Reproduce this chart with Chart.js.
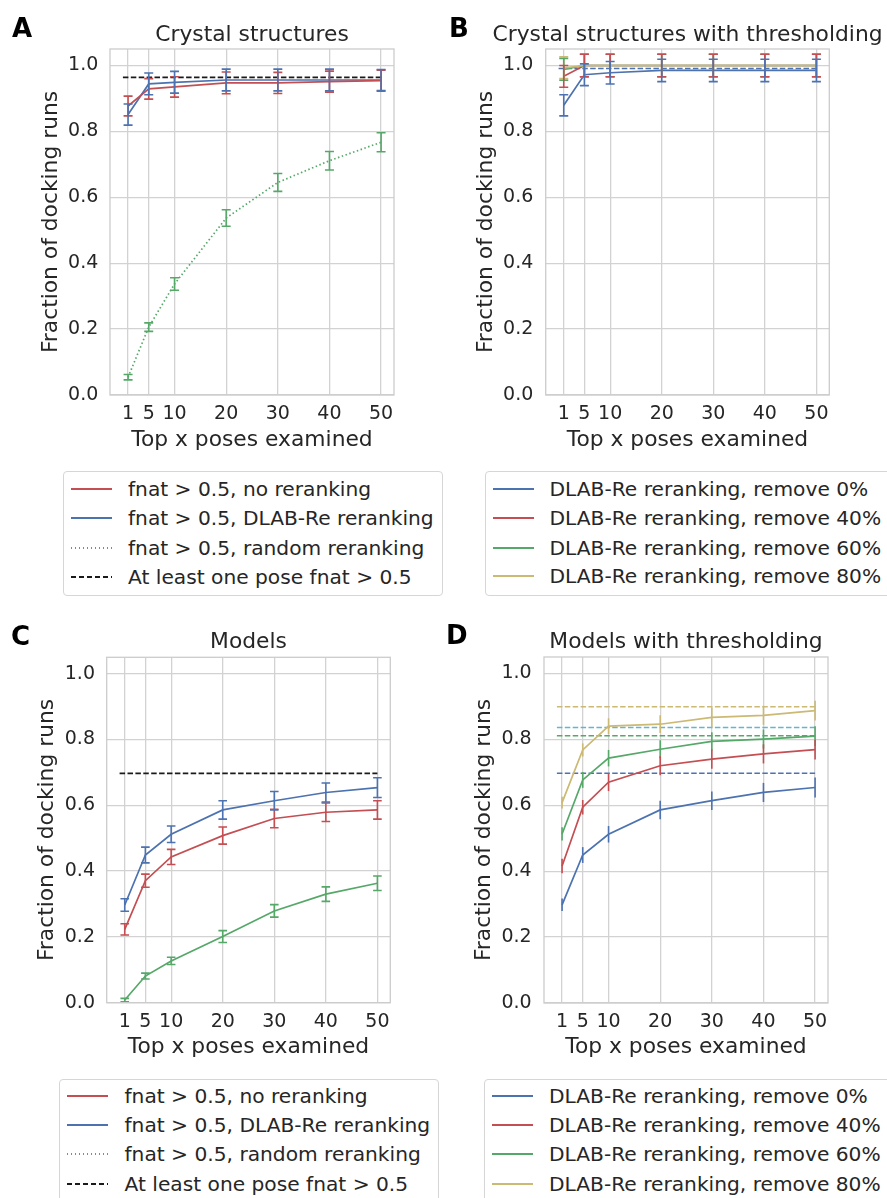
<!DOCTYPE html>
<html>
<head>
<meta charset="utf-8">
<script src="https://cdn.jsdelivr.net/npm/chart.js@4.4.1/dist/chart.umd.min.js"></script>
<style>
  body { margin: 0; width: 887px; height: 1198px; position: relative; overflow: hidden; background: #fff;
         font-family: "DejaVu Sans", sans-serif; color: #262626; }
  canvas { position: absolute; }
  .letter { position: absolute; font-weight: bold; font-size: 26px; line-height: 26px; color: #000; }
  .legend { position: absolute; border: 1px solid #d6d6d6; border-radius: 4px; background: #fff; }
  .legend .sample { position: absolute; height: 2px; }
  .legend .label { position: absolute; height: 30px; line-height: 30px; font-size: 20.2px; white-space: nowrap; }
</style>
</head>
<body>
<canvas id="chartA" width="440" height="460" style="left:0;top:0;width:440px;height:460px"></canvas>
<canvas id="chartB" width="447" height="460" style="left:440px;top:0;width:447px;height:460px"></canvas>
<canvas id="chartC" width="440" height="460" style="left:0;top:610px;width:440px;height:460px"></canvas>
<canvas id="chartD" width="447" height="460" style="left:440px;top:610px;width:447px;height:460px"></canvas>
<div class="letter" style="left:12px;top:15px">A</div>
<div class="letter" style="left:449px;top:15px">B</div>
<div class="letter" style="left:11px;top:623px">C</div>
<div class="letter" style="left:446px;top:622px">D</div>
<div id="legendA" class="legend" style="left:63px;top:471px;width:378px;height:123px"></div>
<div id="legendB" class="legend" style="left:485px;top:471px;width:420px;height:123px"></div>
<div id="legendC" class="legend" style="left:59px;top:1079px;width:378px;height:140px"></div>
<div id="legendD" class="legend" style="left:484px;top:1079px;width:420px;height:140px"></div>
<script>
const poses = [1, 5, 10, 20, 30, 40, 50];
const hlineX = [0, 50];

const comparisonLabels = ['fnat > 0.5, no reranking', 'fnat > 0.5, DLAB-Re reranking',
  'fnat > 0.5, random reranking', 'At least one pose fnat > 0.5'];
const thresholdLabels = ['DLAB-Re reranking, remove 0%', 'DLAB-Re reranking, remove 40%',
  'DLAB-Re reranking, remove 60%', 'DLAB-Re reranking, remove 80%'];

// A: crystal structures
const crystalNoRerank = [0.877, 0.929, 0.935, 0.947, 0.947, 0.951, 0.954];
const crystalNoRerankErr = [0.030, 0.031, 0.031, 0.033, 0.032, 0.032, 0.032];
const crystalDlab = [0.851, 0.944, 0.949, 0.956, 0.956, 0.956, 0.956];
const crystalDlabErr = [0.032, 0.033, 0.033, 0.033, 0.033, 0.033, 0.032];
const crystalRandom = [0.054, 0.206, 0.337, 0.537, 0.645, 0.711, 0.767];
const crystalRandomErr = [0.008, 0.013, 0.019, 0.025, 0.027, 0.028, 0.029];
const crystalBest = 0.964;

// B: crystal structures with thresholding
const crystalThr0 = [0.879, 0.972, 0.978, 0.985, 0.985, 0.985, 0.985];
const crystalThr0Err = [0.032, 0.033, 0.034, 0.034, 0.034, 0.034, 0.034];
const crystalThr40 = [0.967, 1.0, 1.0, 1.0, 1.0, 1.0, 1.0];
const crystalThr40Err = [0.033, 0.034, 0.034, 0.034, 0.034, 0.034, 0.034];
const crystalThr60 = [0.988, 1.0, 1.0, 1.0, 1.0, 1.0, 1.0];
const crystalThr60Err = [0.033, 0.034, 0.034, 0.034, 0.034, 0.034, 0.034];
const crystalThr80 = [0.993, 1.0, 1.0, 1.0, 1.0, 1.0, 1.0];
const crystalThr80Err = [0.033, 0.034, 0.034, 0.034, 0.034, 0.034, 0.034];
const crystalThrBest0 = 0.991;

// C: models
const modelNoRerank = [0.223, 0.371, 0.443, 0.508, 0.560, 0.579, 0.586];
const modelNoRerankErr = [0.017, 0.020, 0.023, 0.026, 0.028, 0.028, 0.028];
const modelDlab = [0.297, 0.449, 0.512, 0.586, 0.614, 0.639, 0.654];
const modelDlabErr = [0.019, 0.024, 0.025, 0.028, 0.028, 0.029, 0.030];
const modelRandom = [0.008, 0.081, 0.127, 0.201, 0.279, 0.330, 0.363];
const modelRandomErr = [0.005, 0.009, 0.011, 0.018, 0.019, 0.022, 0.022];
const modelBest = 0.697;

// D: models with thresholding
const modelThr0 = [0.298, 0.449, 0.512, 0.586, 0.614, 0.639, 0.654];
const modelThr0Err = [0.019, 0.024, 0.025, 0.028, 0.028, 0.029, 0.030];
const modelThr40 = [0.416, 0.594, 0.670, 0.720, 0.740, 0.756, 0.769];
const modelThr40Err = [0.022, 0.022, 0.027, 0.029, 0.029, 0.029, 0.030];
const modelThr60 = [0.513, 0.677, 0.743, 0.770, 0.794, 0.801, 0.810];
const modelThr60Err = [0.020, 0.024, 0.025, 0.027, 0.028, 0.029, 0.030];
const modelThr80 = [0.608, 0.768, 0.840, 0.846, 0.867, 0.873, 0.887];
const modelThr80Err = [0.018, 0.020, 0.024, 0.027, 0.030, 0.029, 0.030];
const modelThrBest = [0.697, 0.811, 0.836, 0.899]; // blue, green, cyan, yellow

const BLUE = '#4c72b0', RED = '#c44e52', GREEN = '#55a868', YELLOW = '#ccb974', CYAN = '#64b5cd', BLACK = '#1a1a1a';
const TEXT = '#262626';

function pts(ys) {
  return poses.map((x, i) => ({ x, y: ys[i] }));
}
function hline(y) {
  return hlineX.map(x => ({ x, y }));
}
function series(ys, errs, color, cap, dash) {
  return { data: pts(ys), errors: errs, cap: cap, borderColor: color, borderWidth: 1.7,
           borderDash: dash || [], pointRadius: 0, tension: 0, fill: false };
}
function dashed(y, color) {
  return { data: hline(y), borderColor: color, borderWidth: 1.6, borderDash: [5.5, 2.4],
           pointRadius: 0, tension: 0, fill: false };
}

// vertical error bars, optional caps
const errorBars = {
  id: 'errorBars',
  afterDatasetsDraw(chart) {
    const { ctx, scales: { x, y } } = chart;
    chart.data.datasets.forEach(ds => {
      if (!ds.errors) return;
      ctx.save();
      ctx.strokeStyle = ds.borderColor;
      ctx.lineWidth = 1.6;
      ds.data.forEach((p, i) => {
        const px = x.getPixelForValue(p.x);
        const top = y.getPixelForValue(p.y + ds.errors[i]);
        const bot = y.getPixelForValue(p.y - ds.errors[i]);
        ctx.beginPath();
        ctx.moveTo(px, top);
        ctx.lineTo(px, bot);
        if (ds.cap) {
          ctx.moveTo(px - ds.cap, top); ctx.lineTo(px + ds.cap, top);
          ctx.moveTo(px - ds.cap, bot); ctx.lineTo(px + ds.cap, bot);
        }
        ctx.stroke();
      });
      ctx.restore();
    });
  }
};

// axes frame + panel title centred on the plot area
const frame = {
  id: 'frame',
  afterDraw(chart, args, opts) {
    const { ctx, chartArea: a } = chart;
    ctx.save();
    ctx.strokeStyle = '#cccccc';
    ctx.lineWidth = 1.3;
    ctx.strokeRect(a.left, a.top, a.right - a.left, a.bottom - a.top);
    ctx.fillStyle = TEXT;
    ctx.font = '21.8px "DejaVu Sans"';
    ctx.textAlign = 'center';
    ctx.textBaseline = 'middle';
    ctx.fillText(opts.title, (a.left + a.right) / 2, opts.titleY);
    ctx.restore();
  }
};

function makePanel(id, cfg) {
  const gridStyle = { color: '#d2d2d2', lineWidth: 1.3, drawTicks: false };
  return new Chart(document.getElementById(id), {
    type: 'line',
    data: { datasets: cfg.datasets },
    options: {
      responsive: false,
      animation: false,
      devicePixelRatio: 1,
      layout: { padding: { top: cfg.top, right: cfg.right, left: 0, bottom: 0 } },
      plugins: {
        legend: { display: false },
        tooltip: { enabled: false },
        frame: { title: cfg.title, titleY: cfg.titleY }
      },
      scales: {
        x: {
          type: 'linear', min: -2.5, max: 52.5,
          afterBuildTicks: s => { s.ticks = poses.map(v => ({ value: v })); },
          afterFit: s => { s.height = cfg.xHeight; },
          grid: gridStyle,
          border: { display: false },
          ticks: { autoSkip: false, maxRotation: 0, padding: cfg.xTickPad, color: TEXT,
                   font: { family: 'DejaVu Sans', size: 19 } },
          title: { display: true, text: 'Top x poses examined', color: TEXT,
                   font: { family: 'DejaVu Sans', size: 21.8 }, padding: { top: 0, bottom: cfg.xTitlePad } }
        },
        y: {
          min: 0, max: 1.05,
          afterFit: s => { s.width = cfg.yWidth; },
          grid: gridStyle,
          border: { display: false },
          ticks: { stepSize: 0.2, includeBounds: false, padding: cfg.yTickPad, color: TEXT,
                   font: { family: 'DejaVu Sans', size: 19 }, callback: v => v.toFixed(1) },
          title: { display: true, text: 'Fraction of docking runs', color: TEXT,
                   font: { family: 'DejaVu Sans', size: 21.8 }, padding: { top: cfg.yTitlePad, bottom: 0 } }
        }
      }
    },
    plugins: [errorBars, frame]
  });
}

makePanel('chartA', {
  title: 'Crystal structures', titleY: 35,
  top: 49, right: 46, xHeight: 65, yWidth: 110,
  xTickPad: 7.6, xTitlePad: 7, yTickPad: 11.7, yTitlePad: 37.9,
  datasets: [
    series(crystalNoRerank, crystalNoRerankErr, RED, 4.5),
    series(crystalDlab, crystalDlabErr, BLUE, 4.5),
    series(crystalRandom, crystalRandomErr, GREEN, 4.5, [1.5, 2.5]),
    dashed(crystalBest, BLACK)
  ]
});

makePanel('chartB', {
  title: 'Crystal structures with thresholding', titleY: 35,
  top: 49, right: 57.7, xHeight: 65, yWidth: 105.7,
  xTickPad: 7.6, xTitlePad: 7, yTickPad: 12.4, yTitlePad: 33.6,
  datasets: [
    series(crystalThr80, crystalThr80Err, YELLOW, 4.5),
    series(crystalThr60, crystalThr60Err, GREEN, 4.5),
    series(crystalThr40, crystalThr40Err, RED, 4.5),
    series(crystalThr0, crystalThr0Err, BLUE, 4.5),
    dashed(crystalThrBest0, BLUE)
  ]
});

makePanel('chartC', {
  title: 'Models', titleY: 32.5,
  top: 47.3, right: 49.7, xHeight: 67.3, yWidth: 106.7,
  xTickPad: 8.2, xTitlePad: 9.4, yTickPad: 11.7, yTitlePad: 34.4,
  datasets: [
    series(modelNoRerank, modelNoRerankErr, RED, 4.3),
    series(modelDlab, modelDlabErr, BLUE, 4.3),
    series(modelRandom, modelRandomErr, GREEN, 4.3),
    dashed(modelBest, BLACK)
  ]
});

makePanel('chartD', {
  title: 'Models with thresholding', titleY: 32.5,
  top: 47, right: 59, xHeight: 67, yWidth: 104,
  xTickPad: 7.9, xTitlePad: 9.4, yTickPad: 12.3, yTitlePad: 30.9,
  datasets: [
    series(modelThr80, modelThr80Err, YELLOW, 0),
    series(modelThr60, modelThr60Err, GREEN, 0),
    series(modelThr40, modelThr40Err, RED, 0),
    series(modelThr0, modelThr0Err, BLUE, 0),
    dashed(modelThrBest[0], BLUE),
    dashed(modelThrBest[1], GREEN),
    dashed(modelThrBest[2], CYAN),
    dashed(modelThrBest[3], YELLOW)
  ]
});

// legends below the panels
function sampleStyle(color, kind) {
  if (kind === 'dotted') return `background: repeating-linear-gradient(to right, ${color} 0 1.5px, transparent 1.5px 4px)`;
  if (kind === 'dashed') return `background: repeating-linear-gradient(to right, ${color} 0 5.5px, transparent 5.5px 8px)`;
  return `background: ${color}`;
}
function buildLegend(id, labels, colors, kinds, rows, sampleLeft, textLeft) {
  const box = document.getElementById(id);
  labels.forEach((txt, i) => {
    const c = rows[i];
    box.insertAdjacentHTML('beforeend',
      `<div class="sample" style="left:${sampleLeft}px;top:${Math.round(c - 1)}px;width:41px;${sampleStyle(colors[i], kinds[i])}"></div>` +
      `<div class="label" style="left:${textLeft}px;top:${c - 15}px">${txt.replace('>', '&gt;')}</div>`);
  });
}
const cmpColors = [RED, BLUE, GREEN, BLACK];
const cmpKinds = ['solid', 'solid', 'dotted', 'dashed'];
const thrColors = [BLUE, RED, GREEN, YELLOW];
const thrKinds = ['solid', 'solid', 'solid', 'solid'];
buildLegend('legendA', comparisonLabels, cmpColors, cmpKinds, [16.5, 45.8, 75.5, 104.8], 7, 64);
buildLegend('legendB', thresholdLabels, thrColors, thrKinds, [16.5, 45.8, 75.5, 103.5], 7, 63.5);
buildLegend('legendC', comparisonLabels, cmpColors, cmpKinds, [16.2, 45.2, 74.2, 103.5], 7, 64.5);
buildLegend('legendD', thresholdLabels, thrColors, thrKinds, [16.2, 45.2, 74.2, 103.5], 7, 64);
</script>
</body>
</html>
